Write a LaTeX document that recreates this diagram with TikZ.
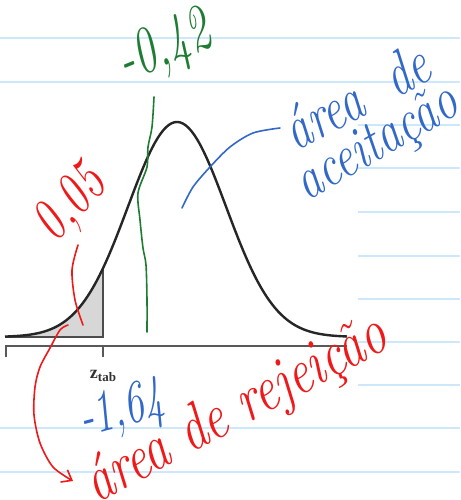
\documentclass[tikz,border=0pt]{standalone}
\usepackage{fontspec}
\newfontfamily\tabfont{Liberation Serif}
\usetikzlibrary{arrows.meta,positioning}

\definecolor{paperline}{RGB}{205,232,250}
\definecolor{inkgreen}{RGB}{30,125,50}
\definecolor{inkred}{RGB}{240,25,25}
\definecolor{inkblue}{RGB}{50,105,200}
\definecolor{tailgray}{RGB}{215,215,215}

% tall, narrow handwriting
\newcommand{\tallink}[2][1.35]{\scalebox{1}[#1]{#2}}

\begin{document}
\begin{tikzpicture}[
  x=1pt, y=-1pt,
  ruled/.style={paperline, line width=1.2pt},
  curve/.style={black!85, line width=2.4pt},
  axisline/.style={black!65, line width=1.8pt},
  hand/.style={inner sep=0pt, font=\fontsize{44}{44}\selectfont\itshape},
  stroke/.style={line width=1.6pt, line cap=round, line join=round},
  arrow/.style={stroke, -{Straight Barb[length=9pt,width=14pt]}}
]

% Paper
\useasboundingbox (0,0) rectangle (460,500);
\fill[white] (0,0) rectangle (460,500);
\foreach \y in {38,82,428,472}
  \draw[ruled] (0,\y) -- (460,\y);
\foreach \y in {125,168,212,256,299,342,385}
  \draw[ruled] (358,\y) -- (460,\y);

% Curve
\fill[tailgray] (5,337) -- plot[domain=5:103, samples=40] (\x, {337-215*exp(-((\x-177)/49)^2/2)}) -- (103,337) -- cycle;
\draw[black!70, line width=1.4pt] (5,337) -- (103,337) -- (103,268);
\draw[curve] plot[domain=5:347, samples=120] (\x, {337-215*exp(-((\x-177)/49)^2/2)});

% Axis
\draw[axisline] (6,357) -- (6,346) -- (347,346);
\draw[axisline] (103,346) -- (103,357);
\node[font=\fontsize{18}{18}\selectfont\tabfont\bfseries, black!80] (ztab) at (103,376)
  {z\raisebox{-0.35ex}{\fontsize{13}{13}\selectfont tab}};

% Labels
\node[hand, inkgreen, rotate=22] (lbl42) at (165,49) {\tallink[1.5]{-0,42}};
\node[hand, inkred, rotate=48] (lbl05) at (72,205) {\tallink{0,05}};
\node[hand, inkblue, rotate=28, font=\fontsize{46}{46}\selectfont\itshape] (aceite1) at (356,96) {\tallink{área\hspace{0.7em}de}};
\node[hand, inkblue, rotate=30, font=\fontsize{46}{46}\selectfont\itshape] (aceite2) at (378,145) {\tallink[1.3]{aceitação}};
\node[hand, inkblue, rotate=15, font=\fontsize{40}{40}\selectfont\itshape] (lbl164) at (122,412) {\tallink[1.5]{-1,64}};
\node[hand, inkred, rotate=28, font=\fontsize{50}{50}\selectfont\itshape] (rejeicao) at (237,411) {\tallink[1.3]{área de rejeição}};

% Connectors
\coordinate (gbase) at (147,332);
\coordinate (gtop) at (154,97);
\draw[stroke, inkgreen] plot[smooth] coordinates {(gbase) (147,300) (146,265) (143,248) (140,220) (138,193) (147,167) (148,147) (152,127) (gtop)};

\coordinate (rtop) at (78,245);
\coordinate (rbot) at (83,325);
\draw[stroke, inkred] plot[smooth] coordinates {(rtop) (72,270) (75,300) (rbot)};

\coordinate (rstart) at (68,325);
\coordinate (rtip) at (73,481);
\draw[arrow, inkred] plot[smooth] coordinates {(rstart) (60,330) (50,348) (40,367) (35,387) (34,415) (40,443) (53,467) (rtip)};

\coordinate (bstart) at (182,208);
\coordinate (bend) at (280,128);
\draw[stroke, inkblue] plot[smooth] coordinates {(bstart) (193,187) (210,167) (230,147) (253,133) (bend)};

\end{tikzpicture}
\end{document}
